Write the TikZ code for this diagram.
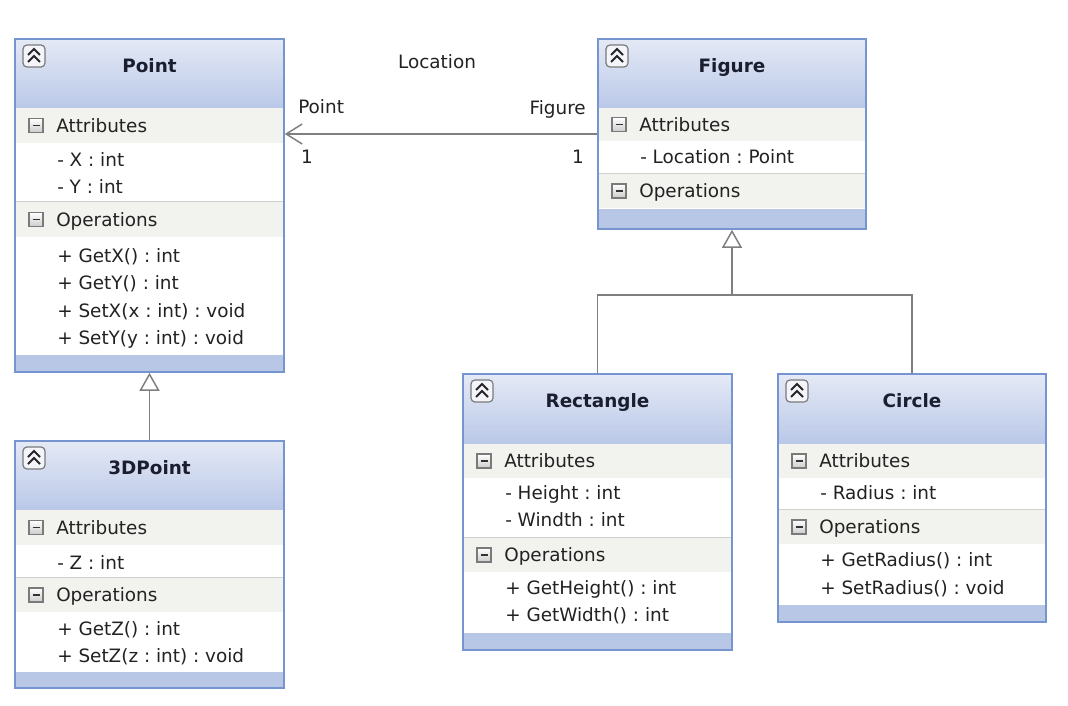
\documentclass[tikz,border=0pt]{standalone}
\usepackage{fontspec}
\setmainfont{DejaVu Sans}
\usetikzlibrary{arrows.meta,fit}
\frenchspacing
\definecolor{bordercol}{HTML}{7694D0}
\definecolor{hdtop}{HTML}{E4E9F5}
\definecolor{hdbot}{HTML}{BAC8E8}
\definecolor{bandcol}{HTML}{F2F3EE}
\definecolor{footcol}{HTML}{B9C7E7}
\definecolor{sepcol}{HTML}{D0D0D0}
\definecolor{linecol}{HTML}{7F7F7F}
\definecolor{txtcol}{HTML}{222222}
\definecolor{ttlcol}{HTML}{1A1E2E}
\definecolor{iconline}{HTML}{7A7A7A}
\definecolor{iconfill}{HTML}{F3F5FA}
\tikzset{
 txt/.style={inner sep=0pt, text height=10pt, text depth=0pt, font=\fontsize{13.8pt}{16pt}\selectfont, text=txtcol},
 ttl/.style={inner sep=0pt, text height=10pt, text depth=0pt, font=\fontsize{13.8pt}{16pt}\selectfont\bfseries, text=ttlcol},
 frame/.style={draw=bordercol, line width=1.2pt, inner sep=0pt},
 sepline/.style={draw=sepcol, line width=0.8pt},
 conn/.style={draw=linecol, line width=1.1pt},
 gen/.style={conn, -{Triangle[open,length=13.5pt,width=15pt,fill=white]}},
 assoc/.style={conn, -{Straight Barb[length=12pt,width=15pt]}},
 chev/.style={draw=iconline, fill=iconfill, rounded corners=3pt, line width=0.9pt},
 chevline/.style={draw=black!85, line width=1.5pt},
 minusbox/.style={draw=iconline, top color=white, bottom color=black!20, line width=0.9pt},
}
% L R T title name
\newcommand\umlHead[5]{%
  \shade[top color=hdtop, bottom color=hdbot] (#1,#3) rectangle (#2,{#3+69});
  \draw[chev] ({#1+8},{#3+6}) rectangle ({#1+30},{#3+28});
  \draw[chevline] ({#1+13},{#3+16}) -- ({#1+19},{#3+10}) -- ({#1+25},{#3+16});
  \draw[chevline] ({#1+13},{#3+23}) -- ({#1+19},{#3+17}) -- ({#1+25},{#3+23});
  \node[ttl] (#5) at ({(#1+#2)/2},{#3+27}) {#4};
}
% L R y1 y2 label name
\newcommand\umlBand[6]{%
  \fill[bandcol] (#1,#3) rectangle (#2,#4);
  \shadedraw[minusbox] ({#1+14},{(#3+#4)/2-7}) rectangle ({#1+28},{(#3+#4)/2+7});
  \draw[black!80, line width=1.4pt] ({#1+17.5},{(#3+#4)/2}) -- ({#1+24.5},{(#3+#4)/2});
  \node[txt, anchor=west] (#6) at ({#1+41},{(#3+#4)/2}) {#5};
}
% L y text name
\newcommand\umlItem[4]{\node[txt, anchor=west] (#4) at ({#1+42},#2) {#3};}
% L R y
\newcommand\umlSep[3]{\draw[sepline] (#1,#3) -- (#2,#3);}
% L R y1 y2
\newcommand\umlFoot[4]{\fill[footcol] (#1,#3) rectangle (#2,#4);}
% L T R B name
\newcommand\umlFrame[5]{\node[frame, fit={(#1,#2) (#3,#4)}] (#5) {};}
\begin{document}
\begin{tikzpicture}[x=0.75pt,y=-0.75pt]
\useasboundingbox (0,0) rectangle (1068,706);
\fill[white] (0,0) rectangle (1068,706);

% ---------- Point ----------
\umlHead{15}{284}{39}{Point}{ptT}
\umlBand{15}{284}{108}{143}{Attributes}{ptA}
\umlItem{15}{160}{- X : int}{ptA1}
\umlItem{15}{187}{- Y : int}{ptA2}
\umlSep{15}{284}{202}
\umlBand{15}{284}{202}{237}{Operations}{ptO}
\umlItem{15}{256}{+ GetX() : int}{ptO1}
\umlItem{15}{283}{+ GetY() : int}{ptO2}
\umlItem{15}{311}{+ SetX(x : int) : void}{ptO3}
\umlItem{15}{338}{+ SetY(y : int) : void}{ptO4}
\umlFoot{15}{284}{355}{372}
\umlFrame{15}{39}{284}{372}{point}

% ---------- 3DPoint ----------
\umlHead{15}{284}{441}{3DPoint}{p3T}
\umlBand{15}{284}{510}{545}{Attributes}{p3A}
\umlItem{15}{563}{- Z : int}{p3A1}
\umlSep{15}{284}{578}
\umlBand{15}{284}{578}{612}{Operations}{p3O}
\umlItem{15}{629}{+ GetZ() : int}{p3O1}
\umlItem{15}{656}{+ SetZ(z : int) : void}{p3O2}
\umlFoot{15}{284}{672}{688}
\umlFrame{15}{441}{284}{688}{p3d}

% ---------- Figure ----------
\umlHead{598}{866}{39}{Figure}{fgT}
\umlBand{598}{866}{108}{141}{Attributes}{fgA}
\umlItem{598}{157}{- Location : Point}{fgA1}
\umlSep{598}{866}{174}
\umlBand{598}{866}{174}{208}{Operations}{fgO}
\umlFoot{598}{866}{209}{229}
\umlFrame{598}{39}{866}{229}{figure}

% ---------- Rectangle ----------
\umlHead{463}{732}{374}{Rectangle}{rcT}
\umlBand{463}{732}{444}{478}{Attributes}{rcA}
\umlItem{463}{493}{- Height : int}{rcA1}
\umlItem{463}{520}{- Windth : int}{rcA2}
\umlSep{463}{732}{538}
\umlBand{463}{732}{538}{572}{Operations}{rcO}
\umlItem{463}{588}{+ GetHeight() : int}{rcO1}
\umlItem{463}{615}{+ GetWidth() : int}{rcO2}
\umlFoot{463}{732}{633}{650}
\umlFrame{463}{374}{732}{650}{rect}

% ---------- Circle ----------
\umlHead{778}{1046}{374}{Circle}{ciT}
\umlBand{778}{1046}{444}{478}{Attributes}{ciA}
\umlItem{778}{493}{- Radius : int}{ciA1}
\umlSep{778}{1046}{510}
\umlBand{778}{1046}{510}{544}{Operations}{ciO}
\umlItem{778}{560}{+ GetRadius() : int}{ciO1}
\umlItem{778}{588}{+ SetRadius() : void}{ciO2}
\umlFoot{778}{1046}{605}{622}
\umlFrame{778}{374}{1046}{622}{circ}

% ---------- connectors ----------
\draw[assoc] (figure.west) -- (figure.west -| point.east);
\node[txt] (lblloc) at (437,62) {Location};
\node[txt, anchor=west] (lblpt) at (298,107) {Point};
\node[txt, anchor=east] (lblfig) at (586,108) {Figure};
\node[txt] (mul1) at (307,157) {1};
\node[txt] (mul2) at (578,157) {1};

\draw[gen] (p3d.north) -- (point.south);
\coordinate (junc) at (732,295);
\draw[conn] (rect.north) |- (junc);
\draw[conn] (circ.north) |- (junc);
\draw[gen] (junc) -- (figure.south);
\end{tikzpicture}
\end{document}
